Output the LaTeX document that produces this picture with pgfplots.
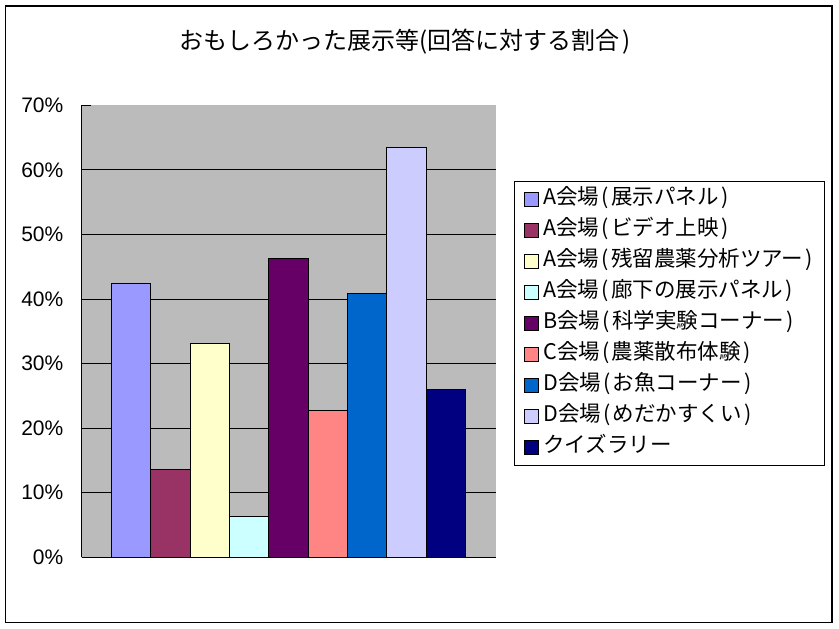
\documentclass[border=0pt]{standalone}
\usepackage{pgfplots}
\pgfplotsset{compat=1.18}
\usepackage{fontspec}
\setmainfont{Noto Sans CJK JP}
\newfontfamily\latin{Liberation Sans}
\newcommand\lp{\kern2pt(\kern2.5pt}
\newcommand\rp{\kern2.5pt)\kern2pt}
\definecolor{plotbg}{HTML}{BBBBBB}
\definecolor{c1}{HTML}{9999FF}
\definecolor{c2}{HTML}{993366}
\definecolor{c3}{HTML}{FFFFCC}
\definecolor{c4}{HTML}{CCFFFF}
\definecolor{c5}{HTML}{660066}
\definecolor{c6}{HTML}{FF8585}
\definecolor{c7}{HTML}{0066CC}
\definecolor{c8}{HTML}{CCCCFF}
\definecolor{c9}{HTML}{000080}
\pgfplotsset{
  mybar/.style={ybar, bar width=1, bar shift=0pt, draw=black, line width=0.9pt, fill=#1,
    legend image code/.code={\draw[fill=#1, draw=black, line width=0.8pt] (0pt,-7pt) rectangle (14pt,7pt); \path (18.5pt,0pt);}},
}
\begin{document}
\begin{tikzpicture}[x=1pt,y=1pt]
\useasboundingbox (0,0) rectangle (839,629);
\draw[black, line width=1.3pt] (5.5,6.5) rectangle (832,623);
\node[font=\fontsize{24}{28}\selectfont, anchor=center] at (406,587) {おもしろかった展示等(回答に対する割合\rp};
\begin{axis}[
  at={(81.5pt,71.7pt)}, anchor=south west,
  scale only axis, width=414pt, height=452pt,
  xmin=-0.257, xmax=10.26, ymin=0, ymax=70,
  axis x line*=bottom, axis y line*=left,
  axis line style={black, line width=1pt, -},
  xtick=\empty,
  ytick={0,10,...,60},
  extra y ticks={70},
  extra y tick style={grid=none},
  ymajorgrids,
  major grid style={black, line width=0.9pt},
  tick align=inside, major tick length=9pt,
  tick style={black, line width=1pt},
  yticklabel={\latin\fontsize{21}{24}\selectfont\pgfmathprintnumber[assume math mode=true]{\tick}\%},
  yticklabel style={inner sep=0pt, xshift=-18pt, anchor=east},
  axis background/.style={fill=plotbg},
  legend style={
    at={(1.047,0.8325)}, anchor=north west,
    draw=black, line width=1pt, fill=white,
    inner xsep=9pt, inner ysep=8pt, outer sep=0pt,
    row sep=11.05pt, column sep=0pt,
    font=\fontsize{21.5}{25}\selectfont,
    nodes={inner sep=0pt, text height=15pt, text depth=5pt},
  },
  legend cell align=left,
]
\addplot[mybar=c1] coordinates {(1,42.4)};
\addlegendentry{A会場\lp 展示パネル\rp}
\addplot[mybar=c2] coordinates {(2,13.6)};
\addlegendentry{A会場\lp ビデオ上映\rp}
\addplot[mybar=c3] coordinates {(3,33.1)};
\addlegendentry{A会場\lp 残留農薬分析ツアー\rp}
\addplot[mybar=c4] coordinates {(4,6.3)};
\addlegendentry{A会場\lp 廊下の展示パネル\rp}
\addplot[mybar=c5] coordinates {(5,46.3)};
\addlegendentry{B会場\lp 科学実験コーナー\rp}
\addplot[mybar=c6] coordinates {(6,22.7)};
\addlegendentry{C会場\lp 農薬散布体験\rp}
\addplot[mybar=c7] coordinates {(7,40.8)};
\addlegendentry{D会場\lp お魚コーナー\rp}
\addplot[mybar=c8] coordinates {(8,63.5)};
\addlegendentry{D会場\lp めだかすくい\rp}
\addplot[mybar=c9] coordinates {(9,26.0)};
\addlegendentry{クイズラリー}
\end{axis}
\end{tikzpicture}
\end{document}
